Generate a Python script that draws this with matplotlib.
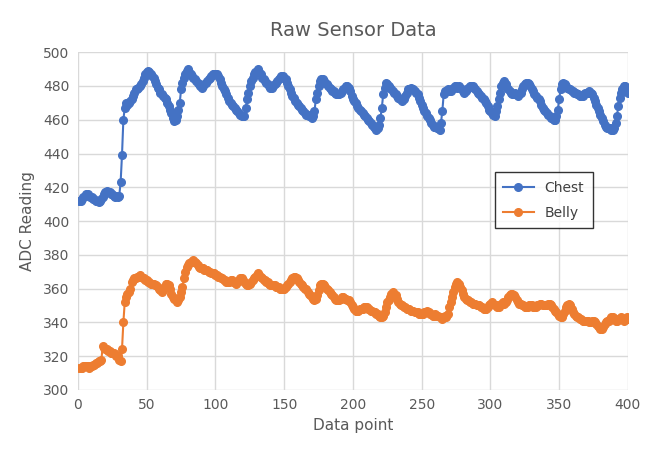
import matplotlib
matplotlib.use('Agg')
import matplotlib.pyplot as plt
import numpy as np

# data, one value per data point (1..400)
chest = [
    412, 412, 413, 414, 415, 416, 416, 415, 414, 414,
    413, 413, 412, 412, 411, 412, 413, 414, 416, 417,
    418, 417, 417, 416, 416, 415, 414, 415, 414, 415,
    423, 439, 460, 467, 470, 469, 470, 471, 472, 474,
    476, 478, 478, 479, 480, 481, 483, 485, 487, 488,
    489, 488, 487, 486, 485, 483, 481, 479, 478, 476,
    475, 474, 473, 472, 470, 468, 466, 464, 461, 459,
    460, 462, 466, 470, 478, 482, 485, 487, 489, 490,
    488, 487, 486, 485, 484, 483, 482, 481, 480, 479,
    480, 481, 482, 483, 484, 485, 486, 487, 487, 487,
    487, 486, 484, 482, 480, 478, 477, 475, 473, 471,
    470, 469, 468, 467, 466, 465, 464, 463, 462, 462,
    462, 467, 472, 476, 480, 483, 485, 487, 488, 489,
    490, 488, 487, 485, 484, 483, 482, 481, 480, 479,
    479, 480, 481, 482, 483, 484, 485, 486, 486, 485,
    484, 482, 480, 478, 476, 474, 473, 471, 470, 469,
    468, 467, 466, 465, 464, 463, 463, 462, 462, 461,
    462, 465, 472, 476, 480, 483, 484, 484, 483, 482,
    481, 480, 479, 478, 477, 477, 476, 475, 475, 475,
    476, 477, 478, 479, 480, 480, 479, 477, 474, 472,
    471, 470, 468, 467, 466, 465, 464, 463, 462, 461,
    460, 459, 458, 457, 456, 455, 454, 455, 457, 461,
    467, 475, 479, 482, 481, 480, 479, 478, 477, 476,
    475, 474, 473, 472, 472, 471, 472, 474, 476, 478,
    478, 479, 478, 478, 477, 476, 475, 473, 471, 469,
    467, 465, 464, 462, 461, 460, 458, 457, 456, 456,
    455, 455, 454, 458, 465, 475, 477, 477, 478, 477,
    477, 478, 479, 480, 480, 479, 480, 479, 478, 477,
    476, 477, 478, 479, 480, 480, 480, 479, 478, 477,
    476, 475, 474, 473, 472, 471, 470, 468, 466, 465,
    464, 463, 462, 465, 468, 472, 476, 480, 482, 483,
    481, 479, 478, 477, 476, 475, 475, 476, 475, 474,
    475, 476, 478, 480, 481, 482, 482, 481, 480, 478,
    477, 475, 474, 473, 472, 471, 469, 467, 466, 465,
    464, 463, 462, 461, 461, 460, 460, 462, 466, 472,
    478, 481, 482, 481, 480, 479, 478, 478, 477, 477,
    476, 476, 475, 475, 474, 474, 474, 475, 476, 476,
    476, 477, 476, 475, 473, 471, 469, 467, 465, 463,
    461, 459, 457, 456, 455, 455, 455, 454, 454, 455,
    458, 462, 468, 473, 476, 478, 480, 480, 479, 476,
]

belly = [
    313, 313, 313, 314, 314, 314, 314, 313, 314, 314,
    315, 315, 316, 316, 317, 317, 318, 326, 325, 324,
    324, 323, 323, 322, 322, 322, 321, 320, 320, 318,
    317, 324, 340, 352, 355, 357, 358, 360, 364, 365,
    366, 366, 367, 367, 368, 367, 366, 366, 365, 365,
    364, 364, 363, 363, 363, 362, 362, 361, 360, 359,
    358, 359, 361, 363, 363, 362, 360, 357, 355, 354,
    353, 352, 353, 355, 358, 361, 366, 370, 373, 374,
    375, 376, 376, 377, 376, 375, 374, 373, 372, 372,
    372, 371, 371, 371, 370, 370, 369, 369, 369, 368,
    368, 367, 367, 366, 366, 365, 365, 364, 364, 364,
    365, 365, 364, 364, 363, 364, 365, 366, 366, 365,
    364, 363, 362, 362, 363, 364, 365, 366, 367, 368,
    369, 368, 367, 366, 365, 365, 364, 364, 363, 362,
    362, 362, 362, 361, 361, 361, 360, 360, 360, 360,
    361, 362, 363, 364, 365, 366, 367, 367, 366, 365,
    364, 363, 362, 361, 360, 360, 358, 357, 356, 355,
    354, 353, 354, 356, 359, 362, 363, 363, 362, 361,
    360, 359, 358, 357, 356, 355, 354, 353, 353, 353,
    354, 355, 355, 354, 354, 353, 353, 352, 350, 349,
    348, 347, 347, 347, 348, 348, 348, 349, 349, 349,
    348, 348, 347, 347, 346, 346, 345, 345, 344, 343,
    343, 344, 346, 349, 352, 353, 355, 357, 358, 357,
    356, 354, 352, 351, 350, 350, 349, 349, 348, 348,
    348, 347, 347, 347, 346, 346, 346, 345, 345, 345,
    345, 346, 346, 347, 346, 345, 345, 344, 344, 345,
    344, 344, 343, 343, 342, 343, 344, 343, 345, 349,
    352, 355, 358, 361, 363, 364, 363, 361, 359, 357,
    355, 354, 353, 353, 352, 352, 351, 351, 351, 350,
    350, 350, 349, 349, 348, 348, 348, 349, 350, 351,
    352, 351, 350, 350, 349, 349, 350, 351, 352, 351,
    352, 353, 355, 356, 357, 357, 356, 355, 353, 352,
    351, 351, 350, 350, 349, 349, 349, 350, 350, 350,
    349, 349, 349, 350, 350, 351, 351, 350, 350, 350,
    350, 351, 351, 350, 349, 348, 347, 346, 345, 344,
    343, 343, 345, 347, 349, 350, 351, 350, 348, 346,
    345, 344, 343, 343, 342, 342, 341, 341, 341, 341,
    341, 340, 340, 341, 341, 340, 339, 338, 337, 336,
    336, 337, 339, 340, 341, 341, 342, 343, 343, 342,
    341, 341, 342, 342, 343, 342, 341, 342, 343, 342,
]

x = np.arange(1, len(chest) + 1)

BLUE = "#4472C4"
ORANGE = "#ED7D31"
TXT = "#595959"
GRID = "#D9D9D9"

fig = plt.figure(figsize=(6.5, 4.62), dpi=100)
ax = fig.add_axes([0.12, 0.156, 0.846, 0.731])

ax.plot(x, chest, color=BLUE, lw=1.5, marker='o', ms=5.5, label='Chest', zorder=3)
ax.plot(x, belly, color=ORANGE, lw=1.5, marker='o', ms=5.5, label='Belly', zorder=3)

ax.set_xlim(0, 400)
ax.set_ylim(300, 500)
ax.set_xticks(range(0, 401, 50))
ax.set_yticks(range(300, 501, 20))
ax.grid(True, color=GRID, lw=1)
ax.set_axisbelow(True)
for s in ax.spines.values():
    s.set_visible(False)
ax.tick_params(length=0, labelsize=10, colors=TXT, pad=6)

ax.set_title("Raw Sensor Data", fontsize=14, color=TXT, pad=12)
ax.set_xlabel("Data point", fontsize=11, color=TXT, labelpad=4)
ax.set_ylabel("ADC Reading", fontsize=11, color=TXT, labelpad=6)

leg = ax.legend(loc='upper left', bbox_to_anchor=(0.745, 0.665), fontsize=10,
                frameon=True, fancybox=False, borderpad=0.6, handlelength=2.2,
                labelspacing=0.8)
leg.get_frame().set_edgecolor('black')
leg.get_frame().set_linewidth(1.0)
for t in leg.get_texts():
    t.set_color('#404040')

plt.savefig("out.png", dpi=100, facecolor='white')
plt.close()
